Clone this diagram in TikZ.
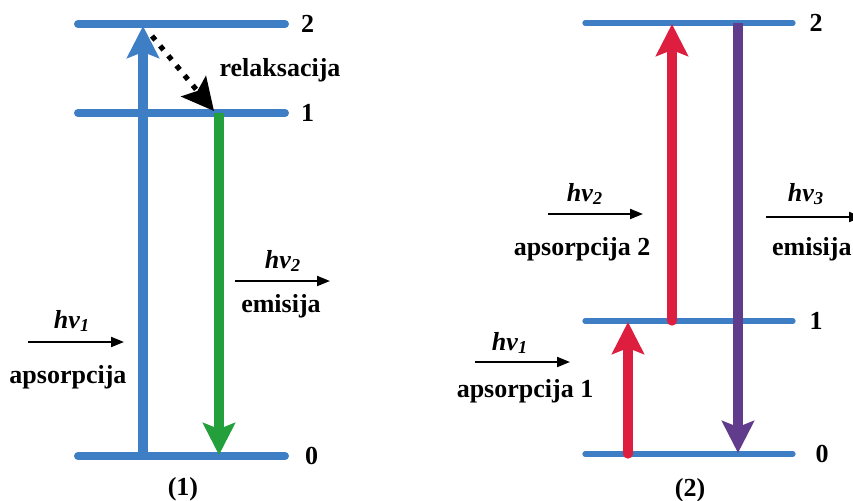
\documentclass[tikz,border=0pt]{standalone}
\usepackage{fontspec}
\setmainfont{Liberation Serif}
\usetikzlibrary{arrows.meta}
\definecolor{levelblue}{RGB}{62,126,196}
\definecolor{emitgreen}{RGB}{35,160,60}
\definecolor{absred}{RGB}{222,30,62}
\definecolor{emitpurple}{RGB}{98,60,140}

\tikzset{
  level/.style={line width=4pt, levelblue, line cap=round},
  thinlevel/.style={line width=2.6pt, levelblue, line cap=round},
  transition/.style={line width=4.6pt, -{Stealth[length=16pt,width=16pt,inset=3pt]}},
  photon/.style={line width=1pt, -{Triangle[length=6.5pt,width=5pt]}},
  lbl/.style={font=\bfseries\fontsize{13}{15}\selectfont, text=black, inner sep=1pt},
}
\newcommand{\hvlabel}[1]{\textit{hv}\textsubscript{\itshape #1}}

\begin{document}
\begin{tikzpicture}[x=0.5pt,y=-0.5pt]
    \useasboundingbox (0,0) rectangle (853,500);
    \clip (0,0) rectangle (853,500);

    % (1) energy levels
    \coordinate (a2l) at (78,24);  \coordinate (a2r) at (285,24);
    \coordinate (a1l) at (78,113); \coordinate (a1r) at (285,113);
    \coordinate (a0l) at (78,456); \coordinate (a0r) at (285,456);
    \draw[level] (a2l) -- (a2r) node[lbl, right=5pt] (a2) {2};
    \draw[level] (a1l) -- (a1r) node[lbl, right=5pt] (a1) {1};
    \draw[level] (a0l) -- (a0r) node[lbl, right=7pt] (a0) {0};

    % (1) transitions
    \coordinate (absbot) at (143,456); \coordinate (abstop) at (143,26);
    \coordinate (relfrom) at (152,36); \coordinate (relto) at (214,111);
    \coordinate (emtop) at (219,113);  \coordinate (embot) at (219,455);
    \draw[transition, levelblue] (absbot) -- (abstop);
    \draw[black, line width=2.6pt, dash pattern=on 2.6pt off 3.8pt,
          -{Stealth[length=16pt,width=16pt,inset=3pt]}] (relfrom) -- (relto);
    \draw[transition, emitgreen] (emtop) -- (embot);
    \node[lbl] (rel) at (280,70) {relaksacija};

    % (1) photons
    \node[lbl] (hvA1) at (72,321) {\hvlabel{1}};
    \coordinate (inA1) at (28,342); \coordinate (inA2) at (124,342);
    \draw[photon] (inA1) -- (inA2);
    \node[lbl] (apsA) at (68,377) {apsorpcija};
    \node[lbl] (hvA2) at (283,261) {\hvlabel{2}};
    \coordinate (outA1) at (235,281); \coordinate (outA2) at (330,281);
    \draw[photon] (outA1) -- (outA2);
    \node[lbl] (emA) at (281,306) {emisija};
    \node[lbl] (capA) at (183,489) {(1)};

    % (2) energy levels
    \coordinate (b2l) at (585,23);  \coordinate (b2r) at (793,23);
    \coordinate (b1l) at (585,321); \coordinate (b1r) at (793,321);
    \coordinate (b0l) at (585,454); \coordinate (b0r) at (793,454);
    \draw[thinlevel] (b2l) -- (b2r) node[lbl, right=6pt] (b2) {2};
    \draw[thinlevel] (b1l) -- (b1r) node[lbl, right=6pt] (b1) {1};
    \draw[thinlevel] (b0l) -- (b0r) node[lbl, right=9pt] (b0) {0};

    % (2) transitions
    \coordinate (r1bot) at (628,454); \coordinate (r1top) at (628,322);
    \coordinate (r2bot) at (672,321); \coordinate (r2top) at (672,24);
    \coordinate (ptop) at (738,23);   \coordinate (pbot) at (738,453);
    \draw[transition, absred, line cap=round] (r1bot) -- (r1top);
    \draw[transition, absred, line cap=round] (r2bot) -- (r2top);
    \draw[transition, emitpurple] (ptop) -- (pbot);

    % (2) photons
    \node[lbl] (hvB2) at (585,194) {\hvlabel{2}};
    \coordinate (inB1) at (548,214); \coordinate (inB2) at (643,214);
    \draw[photon] (inB1) -- (inB2);
    \node[lbl] (apsB2) at (582,249) {apsorpcija 2};
    \node[lbl] (hvB3) at (806,194) {\hvlabel{3}};
    \coordinate (outB1) at (766,217); \coordinate (outB2) at (862,217);
    \draw[photon] (outB1) -- (outB2);
    \node[lbl, anchor=east, inner sep=0pt] (emB) at (852,249) {emisija};
    \node[lbl] (hvB1) at (510,343) {\hvlabel{1}};
    \coordinate (inB3) at (475,362); \coordinate (inB4) at (570,362);
    \draw[photon] (inB3) -- (inB4);
    \node[lbl] (apsB1) at (525,391) {apsorpcija 1};
    \node[lbl] (capB) at (690,490) {(2)};
\end{tikzpicture}
\end{document}
